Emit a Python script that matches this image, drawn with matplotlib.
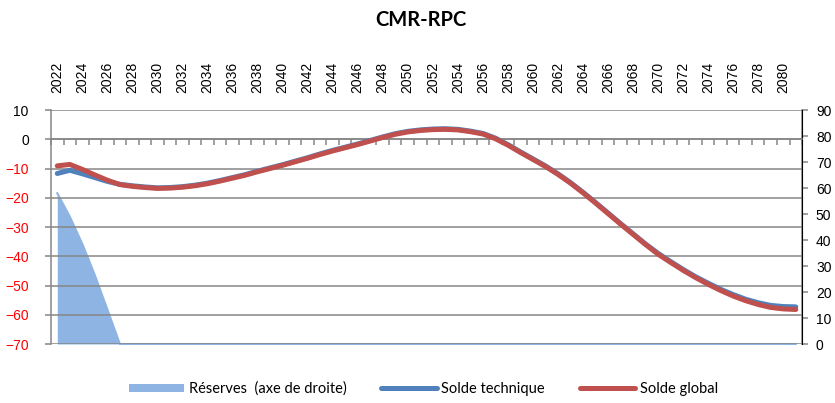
import numpy as np
import matplotlib
matplotlib.use("Agg")
import matplotlib.pyplot as plt
from matplotlib.patches import Patch
from matplotlib.lines import Line2D

years = list(range(2022, 2082))

# Réserves (axe de droite)
reserves = [58, 49, 38.5, 26.5, 13.3] + [0] * 55

# Solde global (axe de gauche)
solde_global = [
    -9.1, -8.6, -10.3, -12.2, -14.0, -15.5, -16.1, -16.5, -16.8, -16.7,
    -16.4, -15.9, -15.2, -14.3, -13.3, -12.3, -11.1, -10.0, -8.9, -7.7,
    -6.5, -5.2, -4.0, -2.9, -1.8, -0.6, 0.6, 1.7, 2.5, 3.0,
    3.3, 3.4, 3.2, 2.6, 1.8, 0.2, -2.0, -4.5, -6.9, -9.3,
    -12.0, -15.0, -18.3, -21.8, -25.4, -29.0, -32.5, -36.0, -39.3, -42.1,
    -44.8, -47.3, -49.6, -51.7, -53.6, -55.2, -56.5, -57.5, -58.0, -58.2,
]

# Solde technique (axe de gauche)
solde_technique = [
    -11.7, -10.6, -11.8, -13.1, -14.4, -15.4, -15.9, -16.3, -16.6, -16.5,
    -16.2, -15.7, -15.0, -14.1, -13.1, -12.1, -10.9, -9.8, -8.7, -7.5,
    -6.3, -5.0, -3.8, -2.7, -1.6, -0.4, 0.8, 1.9, 2.7, 3.2,
    3.5, 3.6, 3.4, 2.8, 2.0, 0.4, -1.8, -4.3, -6.7, -9.1,
    -11.8, -14.8, -18.1, -21.6, -25.2, -28.8, -32.3, -35.8, -39.0, -41.8,
    -44.5, -47.0, -49.2, -51.3, -53.1, -54.7, -55.9, -56.8, -57.2, -57.3,
]

grey = "#868686"
c_res = "#8DB4E2"
c_tech = "#4F81BD"
c_glob = "#C0504D"

plt.rcParams["font.family"] = ["Liberation Sans", "DejaVu Sans"]

fig = plt.figure(figsize=(8.35, 4.03), dpi=100)
ax = fig.add_axes([0.0611, 0.1464, 0.8994, 0.5806])
ax2 = ax.twinx()

# area on the right axis, drawn behind
ax2.fill_between(years, reserves, 0, color=c_res, lw=0)
ax2.plot(years, reserves, color=c_res, lw=1.5, clip_on=False)
ax2.set_ylim(0, 90)
ax2.set_yticks(range(0, 91, 10))

ax.set_zorder(ax2.get_zorder() + 1)
ax.patch.set_visible(False)

ax.plot(years, solde_technique, color=c_tech, lw=3.6, solid_capstyle="round", zorder=3)
ax.plot(years, solde_global, color=c_glob, lw=3.6, solid_capstyle="round", zorder=4)

ax.set_xlim(years[0] - 0.5, years[-1] + 0.5)
ax.set_ylim(-70, 10)
ax.set_yticks(range(-70, 11, 10))
ax.yaxis.grid(True, color=grey, lw=1.1)
ax.set_axisbelow(True)

# category axis crossing at 0, labels on top
ax.spines["bottom"].set_position(("data", 0))
ax.spines["top"].set_visible(False)
for s in ["bottom", "left"]:
    ax.spines[s].set_color(grey)
    ax.spines[s].set_linewidth(1.1)
ax.set_xticks(years[::2])
ax.set_xticks(np.arange(years[0] - 0.5, years[-1] + 1), minor=True)
ax.tick_params(axis="x", which="major", bottom=False, top=False,
               labelbottom=False, labeltop=True, labelrotation=90,
               labelsize=10, pad=9)
ax.tick_params(axis="x", which="minor", bottom=True, top=False,
               direction="out", length=4, width=1.1, color=grey)
ax.tick_params(axis="y", direction="out", length=4, width=1.1, color=grey,
               labelsize=10, pad=12)
for lab, v in zip(ax.get_yticklabels(), range(-70, 11, 10)):
    lab.set_color("red" if v < 0 else "black")

for s in ["top", "bottom", "left"]:
    ax2.spines[s].set_visible(False)
ax2.spines["right"].set_color(grey)
ax2.spines["right"].set_linewidth(1.1)
ax2.tick_params(axis="y", direction="out", length=4, width=1.1, color=grey,
                labelsize=10, pad=6)

fig.text(0.504, 0.95, "CMR-RPC", ha="center", va="center",
         fontsize=14.5, fontweight="bold", family=["Lato", "DejaVu Sans"])

handles = [
    Patch(facecolor=c_res, edgecolor="none"),
    Line2D([], [], color=c_tech, lw=3.6, solid_capstyle="round"),
    Line2D([], [], color=c_glob, lw=3.6, solid_capstyle="round"),
]
labels = ["Réserves  (axe de droite)", "Solde technique", "Solde global"]
fig.legend(handles, labels, loc="center", bbox_to_anchor=(0.507, 0.035),
           ncol=3, frameon=False, handlelength=3.8, handleheight=0.55,
           handletextpad=0.3, columnspacing=2.4,
           prop={"family": ["Lato", "DejaVu Sans"], "size": 10.5})

fig.savefig("out.png", dpi=100)
